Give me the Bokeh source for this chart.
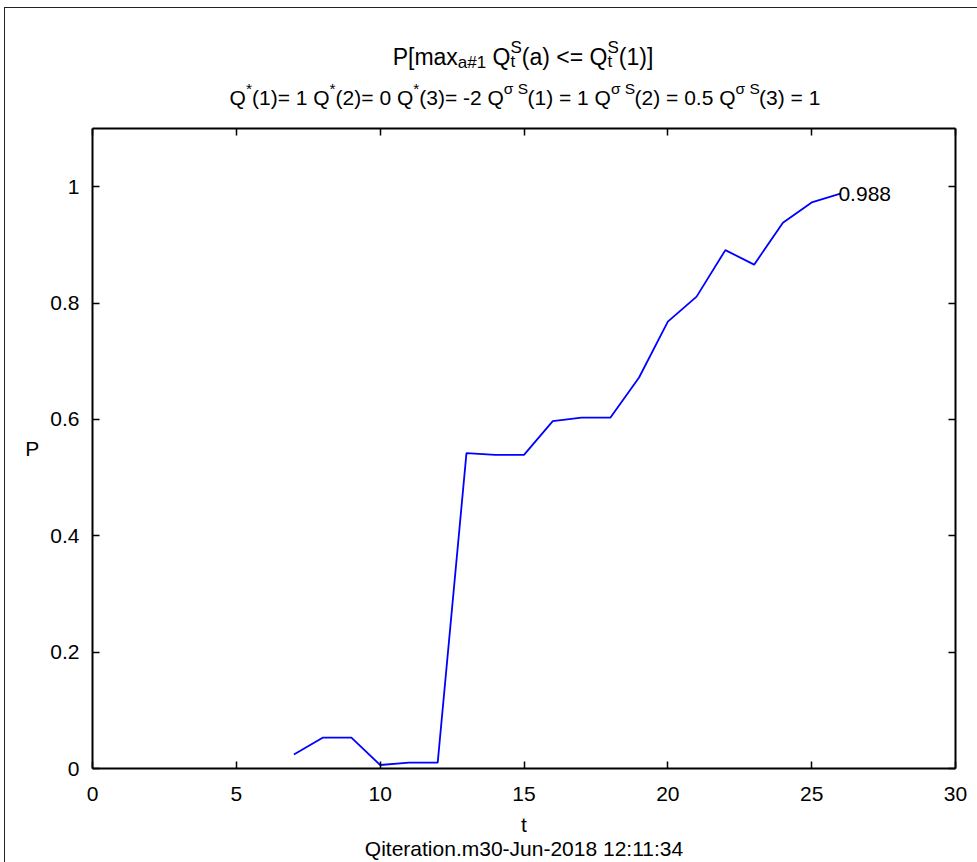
from bokeh.plotting import figure
from bokeh.layouts import column
from bokeh.models import Label, LinearAxis, FixedTicker
from bokeh.embed import file_html
from bokeh.resources import INLINE

# P[max_{a#1} Q_t^S(a) <= Q_t^S(1)] over iterations t
t = [7, 8, 9, 10, 11, 12, 13, 14, 15, 16, 17, 18, 19, 20, 21, 22, 23, 24, 25, 26]
prob = [0.024, 0.053, 0.053, 0.006, 0.010, 0.010, 0.542, 0.539, 0.539, 0.597,
        0.603, 0.603, 0.672, 0.768, 0.811, 0.891, 0.866, 0.938, 0.973, 0.988]

x_ticks = [0, 5, 10, 15, 20, 25, 30]
y_ticks = [0, 0.2, 0.4, 0.6, 0.8, 1]
y_tick_labels = ["0", "0.2", "0.4", "0.6", "0.8", "1"]

x_label = "t\nQiteration.m30-Jun-2018 12:11:34"
y_label = "P"

FONT = "Liberation Sans"
BASE = 21
W = 972
HEAD_H = 105
MAIN_H = 749
LEFT, RIGHT = 87, 22

# ---- main plot -------------------------------------------------------------
p = figure(width=W, height=MAIN_H, x_range=(0, 30), y_range=(0, 1.1),
           output_backend="svg", toolbar_location=None,
           min_border_left=LEFT, min_border_right=RIGHT, min_border_top=15,
           min_border_bottom=94, x_axis_label=x_label, y_axis_label=y_label)
p.xgrid.visible = False
p.ygrid.visible = False
p.outline_line_color = None

p.xaxis.ticker = FixedTicker(ticks=x_ticks)
p.yaxis.ticker = FixedTicker(ticks=y_ticks)
p.yaxis.major_label_overrides = dict(zip(y_ticks, y_tick_labels))
p.yaxis.axis_label_orientation = "horizontal"

for ax in [p.xaxis[0], p.yaxis[0]]:
    ax.axis_line_width = 2
    ax.axis_line_color = "black"
    ax.major_tick_in = 7
    ax.major_tick_out = 0
    ax.major_tick_line_color = "black"
    ax.major_tick_line_width = 1.5
    ax.minor_tick_line_color = None
    ax.major_label_text_font = FONT
    ax.major_label_text_font_size = f"{BASE}px"
    ax.major_label_text_color = "black"
    ax.axis_label_text_font = FONT
    ax.axis_label_text_font_size = f"{BASE}px"
    ax.axis_label_text_font_style = "normal"
    ax.axis_label_text_color = "black"
    ax.axis_label_text_line_height = 1.05

p.yaxis.major_label_standoff = 13
p.yaxis.axis_label_standoff = 8
p.xaxis.major_label_standoff = 18
p.xaxis.axis_label_standoff = 9

# box ticks on the top and right edges (no labels)
for loc, tk in [("right", y_ticks), ("above", x_ticks)]:
    ax = LinearAxis(ticker=FixedTicker(ticks=tk), axis_line_width=2,
                    axis_line_color="black", major_tick_in=7, major_tick_out=0,
                    major_tick_line_color="black", major_tick_line_width=1.5,
                    minor_tick_line_color=None, major_label_text_color=None,
                    major_label_text_font_size="1px", major_label_standoff=0)
    p.add_layout(ax, loc)

p.line(t, prob, line_color="#0000ff", line_width=1.8)

p.add_layout(Label(x=t[-1], y=prob[-1], text=f"{prob[-1]:.3f}", text_font=FONT,
                   text_font_size=f"{BASE}px", text_baseline="middle",
                   text_align="left", x_offset=-2, text_color="black"))

# ---- title block with sub/superscripts -------------------------------------
# the column aligns this frame with the main frame, so x data units are
# canvas pixels across that span
head = figure(width=W, height=HEAD_H, x_range=(LEFT - 0.5, W - RIGHT - 0.5),
              y_range=(0, HEAD_H), title=None,
              output_backend="svg", toolbar_location=None,
              x_axis_type=None, y_axis_type=None, min_border=0,
              min_border_left=LEFT, min_border_right=RIGHT)
head.outline_line_color = None
head.xgrid.visible = False
head.ygrid.visible = False

# Arial advance widths (per 1000 em) used to lay out the title runs
ADV = {" ": 278, "(": 333, ")": 333, "[": 278, "]": 278, "=": 584, "<": 584,
       "-": 333, ".": 278, "*": 389, "#": 556, "P": 667, "Q": 778, "S": 667,
       "m": 833, "a": 556, "x": 500, "t": 278, "\u03c3": 578}


def text_width(s, size):
    return sum(ADV.get(ch, 556) for ch in s) * size / 1000.0


def place_runs(segments, center_x, baseline_y):
    widths = [max(text_width(txt, sz) for txt, sz, dy in seg) for seg in segments]
    x = center_x - sum(widths) / 2.0
    for seg, w in zip(segments, widths):
        for txt, sz, dy in seg:
            lead = len(txt) - len(txt.lstrip(" "))
            shift = text_width(" " * lead, sz)
            head.add_layout(Label(x=x + shift, y=baseline_y + dy,
                                  text=txt.strip(" "), text_font=FONT,
                                  text_font_size=f"{sz}px",
                                  text_baseline="alphabetic", text_align="left",
                                  text_color="black"))
        x += w


B1, s1 = 23, 17
line1 = [
    [("P[max", B1, 0)],
    [("a#1", s1, -6)],
    [(" Q", B1, 0)],
    [("S", s1, 9), ("t", s1, -5)],
    [("(a) <= Q", B1, 0)],
    [("S", s1, 9), ("t", s1, -5)],
    [("(1)]", B1, 0)],
]
place_runs(line1, 517, 57)

B2, s2 = 21, 15.5
line2 = [
    [("Q", B2, 0)], [("*", s2, 9)], [("(1)= 1 Q", B2, 0)],
    [("*", s2, 9)], [("(2)= 0 Q", B2, 0)],
    [("*", s2, 9)], [("(3)= -2 Q", B2, 0)],
    [("\u03c3 S", s2, 9)], [("(1) = 1 Q", B2, 0)],
    [("\u03c3 S", s2, 9)], [("(2) = 0.5 Q", B2, 0)],
    [("\u03c3 S", s2, 9)], [("(3) = 1", B2, 0)],
]
place_runs(line2, 519, 16)

page = column(head, p, spacing=0, margin=(7, 0, 0, 4),
              styles={"border-left": "1px solid #222", "border-top": "1px solid #222",
                      "background-color": "white"})

open("out.html", "w").write(file_html(page, INLINE))
